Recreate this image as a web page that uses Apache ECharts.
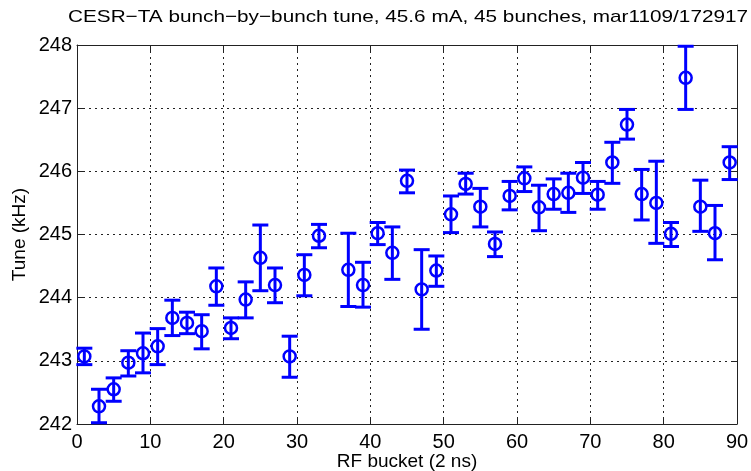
<!DOCTYPE html>
<html>
<head>
<meta charset="utf-8">
<script src="https://cdn.jsdelivr.net/npm/echarts@6/dist/echarts.min.js"></script>
<style>
html,body{margin:0;padding:0;background:#fff;}
#chart{width:751px;height:471px;}
</style>
</head>
<body>
<div id="chart"></div>
<script>
// RF bucket of each bunch (bucket 35 has no measurement shown)
var buckets = [1,3,5,7,9,11,13,15,17,19,21,23,25,27,29,31,33,37,39,41,43,45,47,49,51,53,55,57,59,61,63,65,67,69,71,73,75,77,79,81,83,85,87,89];
// measured tune (kHz)
var tune = [243.07,242.28,242.55,242.97,243.12,243.23,243.68,243.60,243.47,244.18,243.52,243.97,244.63,244.20,243.07,244.36,244.98,244.44,244.20,245.02,244.71,245.85,244.13,244.43,245.32,245.80,245.44,244.85,245.61,245.89,245.43,245.64,245.66,245.90,245.63,246.14,246.74,245.64,245.50,245.01,247.48,245.44,245.02,246.14];
// error bar ends (kHz)
var errLow = [242.94,242.02,242.36,242.76,242.81,242.94,243.40,243.43,243.19,243.88,243.35,243.68,244.11,243.92,242.74,244.03,244.79,243.86,243.85,244.84,244.29,245.66,243.50,244.18,245.03,245.64,245.12,244.65,245.39,245.68,245.06,245.40,245.35,245.65,245.40,245.81,246.51,245.23,244.86,244.81,246.98,245.05,244.60,245.87];
var errHigh = [243.20,242.55,242.73,243.16,243.44,243.51,243.96,243.77,243.73,244.47,243.68,244.25,245.15,244.47,243.39,244.68,245.16,245.02,244.56,245.19,245.12,246.02,244.76,244.66,245.61,245.97,245.73,245.04,245.84,246.07,245.78,245.88,245.97,246.14,245.84,246.46,246.98,246.03,246.16,245.19,247.98,245.86,245.46,246.39];
var xTicks = [0,10,20,30,40,50,60,70,80,90];
var yTicks = [242,243,244,245,246,247,248];

var titleText = 'CESR\u2212TA bunch\u2212by\u2212bunch tune, 45.6 mA, 45 bunches, mar1109/172917';
var xName = 'RF bucket (2 ns)';
var yName = 'Tune (kHz)';

var FONT = '"Liberation Sans", Arial, sans-serif';
var chart = echarts.init(document.getElementById('chart'), null, {renderer: 'canvas'});

var pts = buckets.map(function (b, i) { return [b, tune[i]]; });
var bars = buckets.map(function (b, i) { return [b, errLow[i], errHigh[i]]; });

var gridLine = {show: true, lineStyle: {color: '#222', width: 1, type: [2, 4]}};
var boxLine = {show: true, onZero: false, lineStyle: {color: '#222', width: 1}};
var tick = {show: true, inside: true, length: 6, lineStyle: {color: '#222'}};

chart.setOption({
  animation: false,
  backgroundColor: '#fff',
  graphic: [{
    type: 'text', left: 68, top: 9, scaleX: 1.22,
    style: {text: titleText, font: 'normal 17px ' + FONT, fill: '#000'}
  }],
  grid: {left: 77, right: 14, top: 45, bottom: 47, containLabel: false, outerBoundsMode: 'none'},
  xAxis: [{
    type: 'value', min: xTicks[0], max: xTicks[xTicks.length - 1], interval: 10,
    position: 'bottom',
    name: xName, nameLocation: 'middle', nameGap: 28, nameMoveOverlap: false,
    nameTextStyle: {fontFamily: FONT, fontSize: 19, color: '#000', lineHeight: 19},
    axisLine: boxLine, axisTick: tick,
    axisLabel: {fontFamily: FONT, fontSize: 20, color: '#000', margin: 8},
    splitLine: gridLine
  }, {
    type: 'value', min: xTicks[0], max: xTicks[xTicks.length - 1], interval: 10,
    position: 'top', axisLine: boxLine, axisTick: tick,
    axisLabel: {show: false}, splitLine: {show: false}
  }],
  yAxis: [{
    type: 'value', min: yTicks[0], max: yTicks[yTicks.length - 1], interval: 1,
    position: 'left',
    name: yName, nameLocation: 'middle', nameGap: 48, nameRotate: 90, nameMoveOverlap: false,
    nameTextStyle: {fontFamily: FONT, fontSize: 19, color: '#000', lineHeight: 19},
    axisLine: boxLine, axisTick: tick,
    axisLabel: {fontFamily: FONT, fontSize: 20, color: '#000', margin: 5},
    splitLine: gridLine
  }, {
    type: 'value', min: yTicks[0], max: yTicks[yTicks.length - 1], interval: 1,
    position: 'right', axisLine: boxLine, axisTick: tick,
    axisLabel: {show: false}, splitLine: {show: false}
  }],
  series: [{
    type: 'custom',
    xAxisIndex: 0, yAxisIndex: 0,
    data: bars,
    clip: false,
    renderItem: function (params, api) {
      var x = api.value(0);
      var lo = api.coord([x, api.value(1)]);
      var hi = api.coord([x, api.value(2)]);
      var hw = 8;
      var st = {stroke: '#0000ff', lineWidth: 3, fill: null};
      return {
        type: 'group',
        children: [
          {type: 'line', shape: {x1: lo[0], y1: lo[1], x2: hi[0], y2: hi[1]}, style: st},
          {type: 'line', shape: {x1: lo[0] - hw, y1: lo[1], x2: lo[0] + hw, y2: lo[1]}, style: st},
          {type: 'line', shape: {x1: hi[0] - hw, y1: hi[1], x2: hi[0] + hw, y2: hi[1]}, style: st}
        ]
      };
    },
    z: 3
  }, {
    type: 'scatter',
    xAxisIndex: 0, yAxisIndex: 0,
    data: pts,
    symbol: 'circle', symbolSize: 12,
    itemStyle: {color: 'rgba(0,0,0,0)', borderColor: '#0000ff', borderWidth: 2.5, opacity: 1},
    z: 4
  }]
});
</script>
</body>
</html>
